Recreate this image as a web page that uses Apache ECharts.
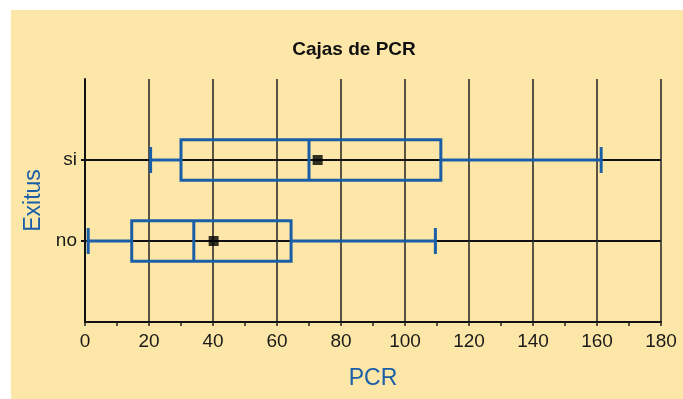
<!DOCTYPE html>
<html>
<head>
<meta charset="utf-8">
<script src="https://cdn.jsdelivr.net/npm/echarts@6/dist/echarts.min.js"></script>
<style>
html,body{margin:0;padding:0;background:#fff;}
#chart{width:683px;height:399px;}
</style>
</head>
<body>
<div id="chart"></div>
<script>
// Data
var categories = ['no', 'si'];
// [min, Q1, median, Q3, max]
var boxNo = [1, 14.6, 34, 64.4, 109.5];
var boxSi = [20.5, 30, 70, 111.2, 161.3];
var means = [40.2, 72.7];
var xTicks = [0, 20, 40, 60, 80, 100, 120, 140, 160, 180];

var yCats = [''].concat(categories).concat(['']);
var boxes = [boxNo, boxSi];
var boxData = boxes.map(function (b, i) { return [i + 1].concat(b); });
var meanData = means.map(function (m, i) { return [m, i + 1]; });

var BLUE = '#1B5EA8';
var FONT = "'Liberation Sans', Arial, sans-serif";

var chart = echarts.init(document.getElementById('chart'));
chart.setOption({
  animation: false,
  backgroundColor: '#ffffff',
  graphic: [{
    type: 'rect', z: -10, silent: true,
    shape: {x: 11, y: 10, width: 672, height: 389},
    style: {fill: '#FDE7A8'}
  }],
  title: {
    text: 'Cajas de PCR',
    left: 349, top: 35, textAlign: 'center',
    textStyle: {fontFamily: FONT, fontWeight: 'bold', fontSize: 19, color: '#111'}
  },
  grid: {left: 85, right: 22, top: 79, bottom: 77},
  xAxis: {
    type: 'value', min: xTicks[0], max: xTicks[xTicks.length - 1], interval: 20,
    name: 'PCR', nameLocation: 'middle', nameGap: 45,
    nameTextStyle: {fontFamily: FONT, fontSize: 23, color: BLUE},
    axisLine: {show: true, lineStyle: {color: '#111', width: 2}},
    axisTick: {show: true, length: 4, lineStyle: {color: '#222', width: 1.5}},
    minorTick: {show: true, splitNumber: 2, length: 4, lineStyle: {color: '#222', width: 1.5}},
    axisLabel: {fontFamily: FONT, fontSize: 19, color: '#1a1a1a', margin: 10},
    splitLine: {show: true, lineStyle: {color: '#222', width: 1.5}}
  },
  yAxis: {
    type: 'category', data: yCats, boundaryGap: false,
    name: 'Exitus', nameLocation: 'middle', nameGap: 40,
    nameTextStyle: {fontFamily: FONT, fontSize: 23, color: BLUE},
    axisLine: {show: true, lineStyle: {color: '#111', width: 2}},
    axisTick: {show: true, length: 4, interval: function (i) { return i > 0 && i < yCats.length - 1; },
      lineStyle: {color: '#111', width: 2}},
    axisLabel: {fontFamily: FONT, fontSize: 19, color: '#1a1a1a', margin: 8},
    splitLine: {show: true, interval: function (i) { return i > 0 && i < yCats.length - 1; },
      lineStyle: {color: '#111', width: 2}}
  },
  series: [{
    type: 'custom',
    data: boxData,
    encode: {y: 0, x: [1, 2, 3, 4, 5]},
    z: 5,
    renderItem: function (params, api) {
      var yi = api.value(0);
      var band = api.size([0, 1])[1];
      var bh = band * 0.25, ch = band * 0.16;
      var pMin = api.coord([api.value(1), yi]);
      var pQ1 = api.coord([api.value(2), yi]);
      var pMed = api.coord([api.value(3), yi]);
      var pQ3 = api.coord([api.value(4), yi]);
      var pMax = api.coord([api.value(5), yi]);
      var cy = pMed[1];
      var st = {stroke: BLUE, lineWidth: 3, fill: null};
      return {
        type: 'group',
        children: [
          {type: 'line', shape: {x1: pMin[0], y1: cy, x2: pQ1[0], y2: cy}, style: st},
          {type: 'line', shape: {x1: pQ3[0], y1: cy, x2: pMax[0], y2: cy}, style: st},
          {type: 'line', shape: {x1: pMin[0], y1: cy - ch, x2: pMin[0], y2: cy + ch}, style: st},
          {type: 'line', shape: {x1: pMax[0], y1: cy - ch, x2: pMax[0], y2: cy + ch}, style: st},
          {type: 'rect', shape: {x: pQ1[0], y: cy - bh, width: pQ3[0] - pQ1[0], height: 2 * bh}, style: st},
          {type: 'line', shape: {x1: pMed[0], y1: cy - bh, x2: pMed[0], y2: cy + bh}, style: st}
        ]
      };
    }
  }, {
    type: 'scatter',
    data: meanData,
    symbol: 'rect', symbolSize: 10, z: 6,
    itemStyle: {color: '#000'}
  }]
});
</script>
</body>
</html>
